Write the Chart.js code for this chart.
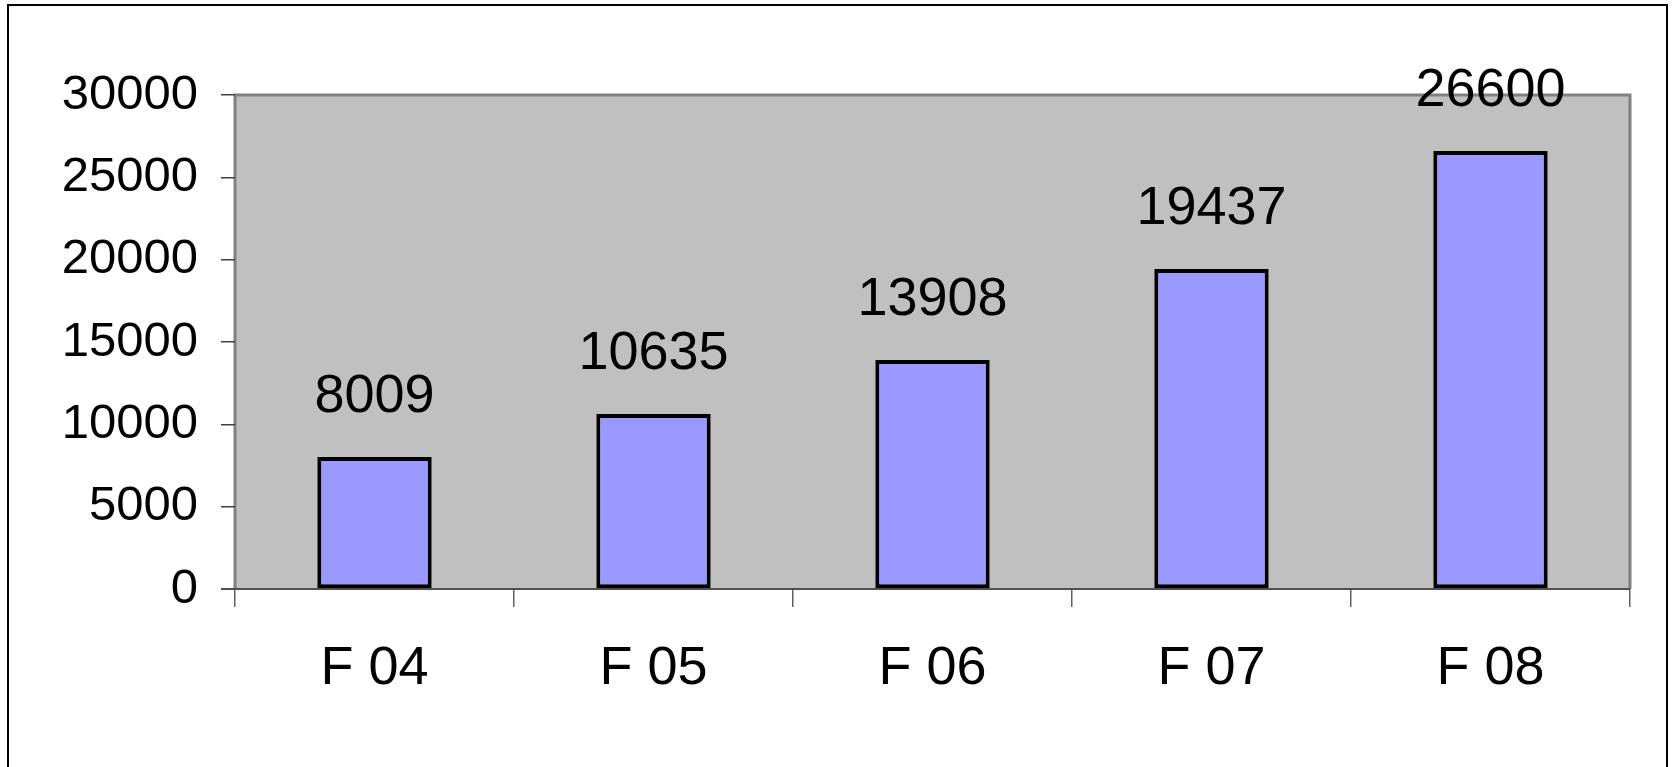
<!DOCTYPE html>
<html>
<head>
<meta charset="utf-8">
<script src="https://cdn.jsdelivr.net/npm/chart.js@4.4.1/dist/chart.umd.min.js"></script>
<style>
  html, body { margin: 0; padding: 0; background: #ffffff; }
  #wrap { width: 1673px; height: 767px; position: relative; }
</style>
</head>
<body>
<div id="wrap"><canvas id="c" width="1673" height="767"></canvas></div>
<script>
const categories = ["F 04", "F 05", "F 06", "F 07", "F 08"];
const values = [8009, 10635, 13908, 19437, 26600];
const yTicks = [0, 5000, 10000, 15000, 20000, 25000, 30000];

const FONT = "'Liberation Sans', Arial, sans-serif";

const framePlugin = {
  id: 'frame',
  beforeDraw(chart) {
    const ctx = chart.ctx;
    const a = chart.chartArea;
    ctx.save();
    ctx.fillStyle = '#ffffff';
    ctx.fillRect(0, 0, chart.width, chart.height);
    ctx.strokeStyle = '#000000';
    ctx.lineWidth = 2;
    ctx.strokeRect(8, 5, 1659, 800);
    ctx.fillStyle = '#C0C0C0';
    ctx.fillRect(a.left, a.top, a.right - a.left, a.bottom - a.top);
    ctx.strokeStyle = '#808080';
    ctx.lineWidth = 3;
    ctx.beginPath();
    ctx.moveTo(a.left, a.bottom);
    ctx.lineTo(a.left, a.top);
    ctx.lineTo(a.right, a.top);
    ctx.lineTo(a.right, a.bottom);
    ctx.stroke();
    ctx.restore();
  },
  afterDatasetsDraw(chart) {
    const ctx = chart.ctx;
    const a = chart.chartArea;
    ctx.save();
    ctx.strokeStyle = '#505050';
    ctx.lineWidth = 2;
    ctx.beginPath();
    ctx.moveTo(a.left - 14, a.bottom);
    ctx.lineTo(a.right, a.bottom);
    ctx.stroke();
    const meta = chart.getDatasetMeta(0);
    ctx.fillStyle = '#000000';
    ctx.font = '54px ' + FONT;
    ctx.textAlign = 'center';
    ctx.textBaseline = 'middle';
    meta.data.forEach((bar, i) => {
      ctx.fillText(String(chart.data.datasets[0].data[i]), bar.x, bar.y - 60);
    });
    ctx.restore();
  }
};

new Chart(document.getElementById('c'), {
  type: 'bar',
  data: {
    labels: categories,
    datasets: [{
      data: values,
      backgroundColor: '#9999FF',
      borderColor: '#000000',
      borderWidth: 4,
      borderSkipped: false,
      categoryPercentage: 1.0,
      barPercentage: 0.41
    }]
  },
  options: {
    responsive: false,
    animation: false,
    devicePixelRatio: 1,
    layout: { padding: { left: 8, top: 95, right: 43, bottom: 0 } },
    plugins: { legend: { display: false }, tooltip: { enabled: false } },
    scales: {
      x: {
        grid: { display: true, drawOnChartArea: false, drawTicks: true, tickLength: 18, color: '#606060', lineWidth: 1.5, offset: true },
        border: { display: false },
        ticks: { color: '#000000', font: { size: 54, family: FONT }, padding: 30, maxRotation: 0 },
        afterFit(scale) { scale.height = 767 - 589; }
      },
      y: {
        min: 0, max: 30000,
        afterBuildTicks(scale) { scale.ticks = yTicks.map(v => ({ value: v })); },
        grid: { display: true, drawOnChartArea: false, drawTicks: true, tickLength: 14, color: '#404040', lineWidth: 1.5 },
        border: { display: false },
        ticks: { color: '#000000', font: { size: 49, family: FONT }, padding: 23, callback: (v) => String(v) },
        afterFit(scale) { scale.width = 235 - 8; }
      }
    }
  },
  plugins: [framePlugin]
});
</script>
</body>
</html>
